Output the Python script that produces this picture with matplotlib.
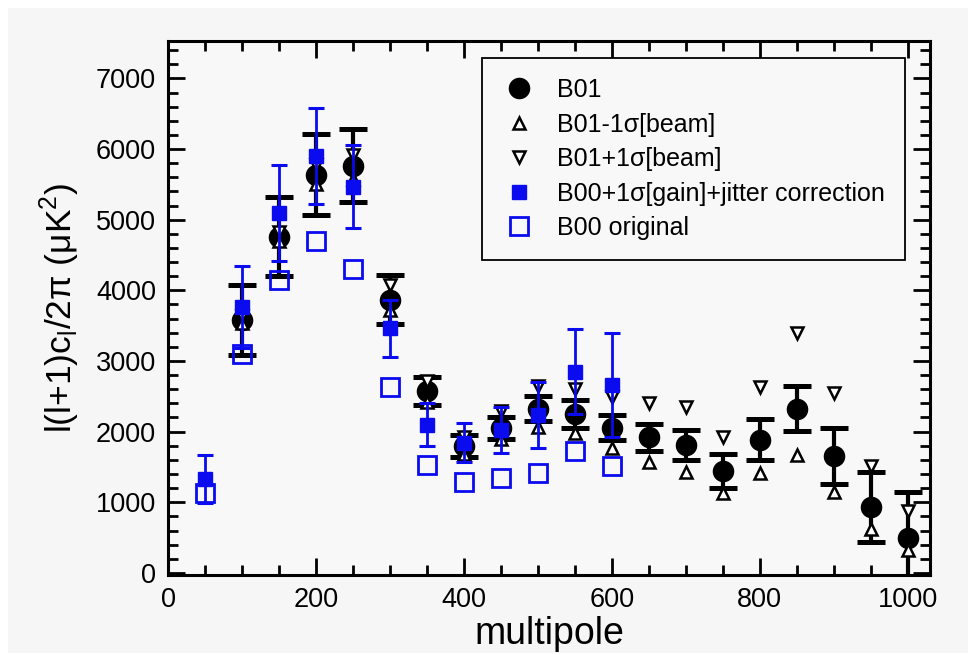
import matplotlib
matplotlib.use("Agg")
import matplotlib.pyplot as plt
from matplotlib.patches import Rectangle
from matplotlib.ticker import MultipleLocator

plt.rcParams['font.family'] = ['Liberation Sans', 'DejaVu Sans']

# B01 band powers, l = 100 .. 1000
l_b01 = [100, 150, 200, 250, 300, 350, 400, 450, 500, 550,
         600, 650, 700, 750, 800, 850, 900, 950, 1000]
cl_b01 = [3580, 4760, 5640, 5765, 3868, 2578, 1795, 2050, 2325, 2252,
          2055, 1920, 1807, 1442, 1882, 2322, 1657, 938, 500]
err_b01 = [500, 560, 580, 515, 345, 200, 160, 160, 180, 195,
           180, 190, 210, 235, 290, 320, 400, 495, 650]
cl_b01_minus = [3540, 4700, 5510, 5580, 3720, 2420, 1690, 1890, 2070, 1975,
                1765, 1575, 1435, 1130, 1410, 1670, 1150, 620, 325]
cl_b01_plus = [3630, 4820, 5770, 5910, 4070, 2720, 1930, 2290, 2645, 2610,
               2495, 2400, 2345, 1920, 2630, 3400, 2545, 1510, 870]

# B00 band powers, l = 50 .. 600
l_b00 = [50, 100, 150, 200, 250, 300, 350, 400, 450, 500, 550, 600]
cl_b00_corr = [1330, 3770, 5090, 5900, 5470, 3460, 2095, 1840, 2025, 2235, 2850, 2660]
err_b00_corr = [340, 580, 680, 680, 590, 400, 305, 275, 330, 470, 600, 730]
cl_b00_orig = [1127, 3098, 4144, 4696, 4296, 2626, 1527, 1292, 1339, 1419, 1730, 1518]

blue = '#0b0bf0'

fig = plt.figure(figsize=(9.75, 6.55), dpi=100, facecolor='white')
# grey panel with a thin white margin
fig.patches.append(Rectangle((8/975, 2/655), 960/975, 645/655, transform=fig.transFigure,
                             facecolor='#f6f6f6', edgecolor='none', zorder=-10))
ax = fig.add_axes([168/975, 1-575/655, (930-168)/975, (575-41)/655])
ax.set_facecolor('#f8f8f8')

# black B01 bars and markers
ax.errorbar(l_b01, cl_b01, yerr=err_b01, fmt='none', ecolor='black',
            elinewidth=3, capsize=10, capthick=3.6, zorder=2)
ax.plot(l_b01, cl_b01, 'o', color='black', ms=14.5, zorder=3, label='B01')
ax.plot(l_b01, cl_b01_minus, '^', mfc='white', mec='black', mew=1.8, ms=8.5,
        zorder=4, label='B01-1σ[beam]')
ax.plot(l_b01, cl_b01_plus, 'v', mfc='white', mec='black', mew=1.8, ms=8.5,
        zorder=4, label='B01+1σ[beam]')

# blue B00 points
ax.errorbar(l_b00, cl_b00_corr, yerr=err_b00_corr, fmt='none', ecolor=blue,
            elinewidth=2, capsize=6, capthick=2.2, zorder=5)
ax.plot(l_b00, cl_b00_corr, 's', color=blue, ms=9.5, zorder=5,
        label='B00+1σ[gain]+jitter correction')
ax.plot(l_b00, cl_b00_orig, 's', mfc='none', mec=blue, mew=2, ms=13,
        zorder=6, label='B00 original')

ax.set_xlim(0, 1030)
ax.set_ylim(-30, 7530)
ax.xaxis.set_major_locator(MultipleLocator(200))
ax.xaxis.set_minor_locator(MultipleLocator(50))
ax.yaxis.set_major_locator(MultipleLocator(1000))
ax.yaxis.set_minor_locator(MultipleLocator(200))
ax.tick_params(which='both', direction='in', top=True, right=True,
               labelsize=19.5, width=2)
ax.tick_params(which='major', length=12, pad=8.5)
ax.tick_params(which='minor', length=7)
for s in ax.spines.values():
    s.set_linewidth(2.2)

ax.set_xlabel('multipole', fontsize=27, labelpad=2)
ax.set_ylabel('l(l+1)c$_\\mathregular{l}$/2π (μK$^\\mathregular{2}$)', fontsize=25.5, labelpad=10)

leg = ax.legend(loc='upper right', bbox_to_anchor=(0.967, 0.968),
                fontsize=18, frameon=True, fancybox=False, edgecolor='black',
                facecolor='#f8f8f8', framealpha=1, borderpad=0.8,
                handlelength=1.4, handletextpad=0.8, labelspacing=0.42,
                borderaxespad=0)
leg.get_frame().set_linewidth(1.3)

fig.savefig('out.png', dpi=100, facecolor=fig.get_facecolor())
